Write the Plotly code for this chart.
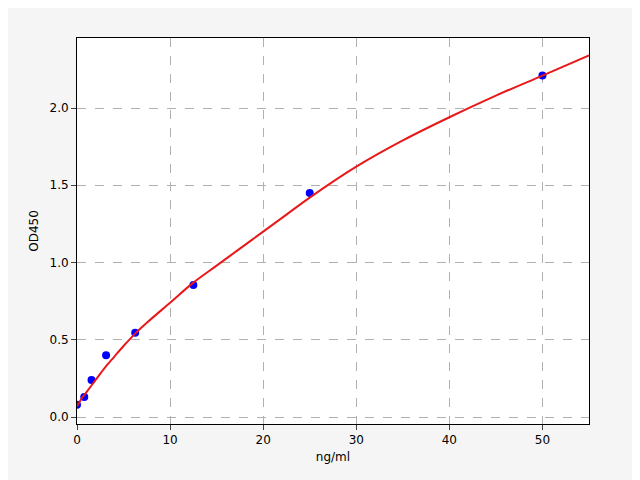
import plotly.graph_objects as go

conc = [0, 0.78, 1.56, 3.125, 6.25, 12.5, 25, 50]
od = [0.08, 0.13, 0.24, 0.40, 0.545, 0.855, 1.45, 2.21]
curve_x = [0, 0.5, 1, 2, 3, 4, 5, 6.25, 7.5, 10, 12.5, 15, 17.5, 20, 22.5, 25, 30, 35, 40, 45, 50, 55]
curve_y = [0.07, 0.12, 0.16, 0.24, 0.32, 0.39, 0.46, 0.54, 0.61, 0.74, 0.87, 0.98, 1.09, 1.20, 1.31, 1.42, 1.62, 1.79, 1.94, 2.08, 2.21, 2.34]

fig = go.Figure()
fig.add_trace(go.Scatter(x=conc, y=od, mode="markers",
                         marker=dict(color="blue", size=8), showlegend=False))
fig.add_trace(go.Scatter(x=curve_x, y=curve_y, mode="lines", line_shape="spline",
                         line=dict(color="#e8191b", width=2), showlegend=False))
ax = dict(showline=True, linecolor="black", mirror=True, ticks="outside",
          gridcolor="#b0b0b0", griddash="dash", zeroline=False,
          tickfont=dict(size=12, color="black"))
fig.update_layout(width=640, height=480, paper_bgcolor="#f5f5f5", plot_bgcolor="white",
                  margin=dict(l=69, r=59, t=30, b=64),
                  font=dict(family="DejaVu Sans", color="black"),
                  xaxis=dict(ax, range=[0, 55], dtick=10, title=dict(text="ng/ml", font=dict(size=12), standoff=6)),
                  yaxis=dict(ax, range=[-0.045, 2.453], dtick=0.5, tickformat=".1f",
                             title=dict(text="OD450", font=dict(size=12), standoff=8)))
fig.write_html("out.html")
